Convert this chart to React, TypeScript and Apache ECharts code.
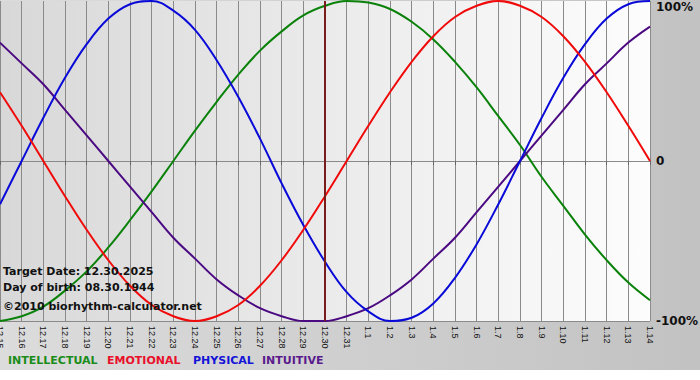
import React, { useEffect, useRef } from "react";
import * as echarts from "echarts";

const dates = [
  "12.15", "12.16", "12.17", "12.18", "12.19", "12.20", "12.21", "12.22", "12.23", "12.24",
  "12.25", "12.26", "12.27", "12.28", "12.29", "12.30", "12.31", "1.1", "1.2", "1.3",
  "1.4", "1.5", "1.6", "1.7", "1.8", "1.9", "1.10", "1.11", "1.12", "1.13", "1.14",
];

const intellectual = [
  -1.0, -0.97, -0.91, -0.81, -0.69, -0.54, -0.37, -0.19, 0, 0.19,
  0.37, 0.54, 0.69, 0.81, 0.91, 0.97, 1.0, 0.99, 0.95, 0.87,
  0.76, 0.62, 0.46, 0.28, 0.1, -0.1, -0.28, -0.46, -0.62, -0.76, -0.87,
];

const emotional = [
  0.43, 0.22, 0, -0.22, -0.43, -0.62, -0.78, -0.9, -0.97, -1.0,
  -0.97, -0.9, -0.78, -0.62, -0.43, -0.22, 0, 0.22, 0.43, 0.62,
  0.78, 0.9, 0.97, 1.0, 0.97, 0.9, 0.78, 0.62, 0.43, 0.22, 0,
];

const physical = [
  -0.27, 0, 0.27, 0.52, 0.73, 0.89, 0.98, 1.0, 0.94, 0.82,
  0.63, 0.4, 0.14, -0.14, -0.4, -0.63, -0.82, -0.94, -1.0, -0.98,
  -0.89, -0.73, -0.52, -0.27, 0, 0.27, 0.52, 0.73, 0.89, 0.98, 1.0,
];

const intuitive = [
  0.74, 0.61, 0.48, 0.32, 0.16, 0, -0.16, -0.32, -0.48, -0.61,
  -0.74, -0.84, -0.92, -0.97, -1.0, -1.0, -0.97, -0.92, -0.84, -0.74,
  -0.61, -0.48, -0.32, -0.16, 0, 0.16, 0.32, 0.48, 0.61, 0.74, 0.84,
];

const targetDate = "12.30";
const yTicks: Record<string, string> = { "1": "100%", "0": "0", "-1": "-100%" };
const infoLines = ["Target Date: 12.30.2025", "Day of birth: 08.30.1944", "©2010 biorhythm-calculator.net"];
const legendNames = ["INTELLECTUAL", "EMOTIONAL", "PHYSICAL", "INTUITIVE"];

const COLORS = {
  intellectual: "#0a820a",
  emotional: "#f00a0a",
  physical: "#0a0ad8",
  intuitive: "#4b0a82",
};
const LEGEND_COLORS = ["#1a8c1a", "#e8102a", "#1414d8", "#5a1a8c"];

export default function App() {
  const ref = useRef<HTMLDivElement>(null);

  useEffect(() => {
    if (!ref.current) return;
    const chart = echarts.init(ref.current, undefined, { renderer: "svg" });
    const font = "DejaVu Sans";

    const mkLine = (name: string, data: number[], color: string) => ({
      name,
      type: "line",
      data,
      smooth: 0.4,
      symbol: "none",
      z: 3,
      lineStyle: { color, width: 2 },
    });

    const legendX = [8, 107, 193, 262];

    chart.setOption({
      animation: false,
      backgroundColor: new echarts.graphic.LinearGradient(0, 0, 1, 0, [
        { offset: 0, color: "#dcdcdc" },
        { offset: 1, color: "#c2c2c2" },
      ]),
      grid: {
        left: 0,
        top: 1,
        width: 650,
        height: 320,
        show: true,
        borderWidth: 0,
        outerBoundsMode: "none",
        containLabel: false,
        backgroundColor: new echarts.graphic.LinearGradient(0, 0, 1, 0, [
          { offset: 0, color: "#d8d8d8" },
          { offset: 1, color: "#fdfdfd" },
        ]),
      },
      xAxis: {
        type: "category",
        data: dates,
        boundaryGap: false,
        axisLine: { show: true, lineStyle: { color: "#8a8a8a", width: 1 } },
        axisTick: { show: true, length: 4, interval: 0, lineStyle: { color: "#666" } },
        axisLabel: {
          interval: 0,
          rotate: -90,
          margin: 5,
          color: "#111",
          fontFamily: "Liberation Sans",
          fontSize: 9,
          showMinLabel: true,
          showMaxLabel: true,
        },
        splitLine: { show: true, interval: 0, lineStyle: { color: "#8a8a8a", width: 1 } },
      },
      yAxis: {
        type: "value",
        position: "right",
        min: -1,
        max: 1,
        interval: 1,
        axisLine: { show: false },
        axisTick: { show: false },
        axisLabel: {
          margin: 6,
          color: "#111",
          fontFamily: font,
          fontWeight: "bold",
          fontSize: 12,
          verticalAlignMaxLabel: "top",
          formatter: (v: number) => yTicks[String(v)] ?? "",
        },
        splitLine: { show: true, lineStyle: { color: ["#8a8a8a", "#8a8a8a", "transparent"], width: 1 } },
      },
      series: [
        {
          name: "target",
          type: "line",
          data: [],
          z: 2,
          markLine: {
            silent: true,
            symbol: "none",
            label: { show: false },
            lineStyle: { color: "#7a1c1c", width: 2, type: "solid" },
            data: [{ xAxis: targetDate }],
          },
        },
        mkLine("INTELLECTUAL", intellectual, COLORS.intellectual),
        mkLine("INTUITIVE", intuitive, COLORS.intuitive),
        mkLine("PHYSICAL", physical, COLORS.physical),
        mkLine("EMOTIONAL", emotional, COLORS.emotional),
      ],
      graphic: [
        ...infoLines.map((t, i) => ({
          type: "text",
          left: 3,
          top: [266, 282, 301][i],
          z: 10,
          style: {
            text: t,
            fill: "#111",
            font: `bold 11px "${font}"`,
          },
        })),
        ...legendNames.map((t, i) => ({
          type: "text",
          left: legendX[i],
          top: 355,
          z: 10,
          style: {
            text: t,
            fill: LEGEND_COLORS[i],
            font: `bold 11px "${font}"`,
          },
        })),
      ],
    });

    return () => chart.dispose();
  }, []);

  return (
    <div
      ref={ref}
      style={{ position: "fixed", left: 0, top: 0, width: 700, height: 370 }}
    />
  );
}
